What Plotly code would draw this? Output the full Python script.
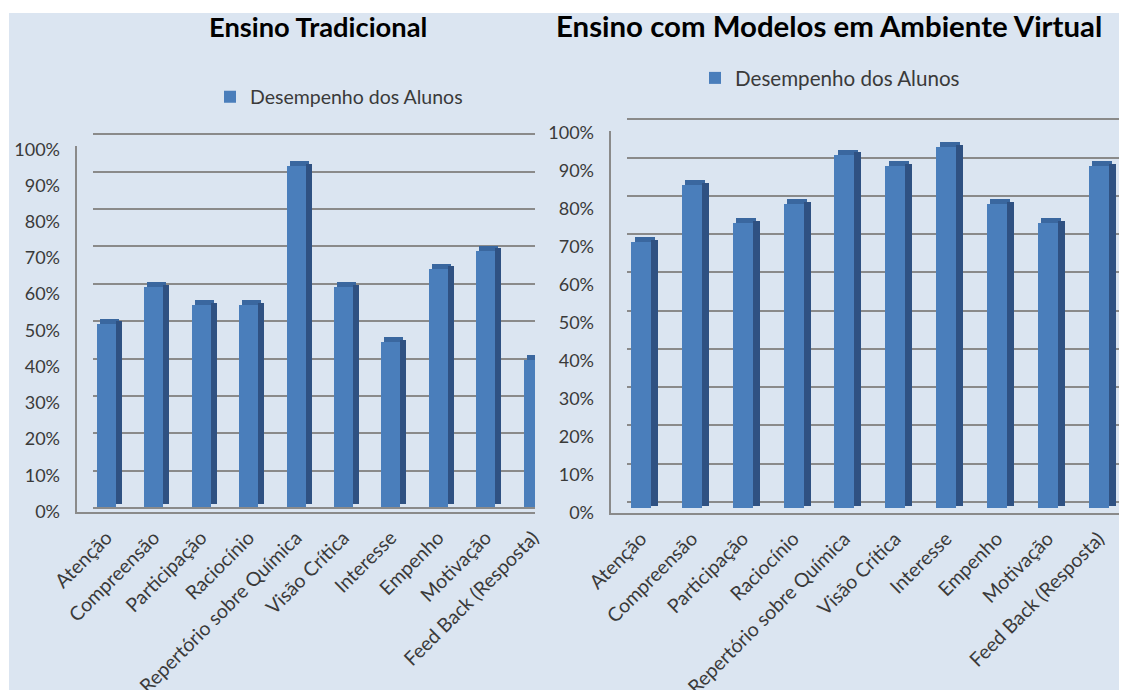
import plotly.graph_objects as go

# ---------------- data ----------------
categories = ["Atenção", "Compreensão", "Participação", "Raciocínio",
              "Repertório sobre Química", "Visão Crítica", "Interesse",
              "Empenho", "Motivação", "Feed Back (Resposta)"]
tradicional = [50, 60, 55, 55, 93, 60, 45, 65, 70, 40]
virtual = [70, 85, 75, 80, 93, 90, 95, 80, 75, 90]
y_ticks = [0, 10, 20, 30, 40, 50, 60, 70, 80, 90, 100]
y_tick_labels = ["0%", "10%", "20%", "30%", "40%", "50%", "60%", "70%", "80%", "90%", "100%"]
series_name = "Desempenho dos Alunos"
title_left = "Ensino Tradicional"
title_right = "Ensino com Modelos em Ambiente Virtual"

# ---------------- style ----------------
WIN_W, WIN_H = 1127, 690
OFF = 8                      # page body margin in the browser
W, H = WIN_W - OFF, WIN_H - OFF
BG = "#dbe5f1"
FRONT = "#4a7ebb"
SIDE = "#2f5182"
TOP = "#3a679f"
GRID = "#8a8a8a"
FONT = "Lato"
TXT = "#3a3a3a"

xpos = list(range(len(categories)))


def fx(p):
    return (p - OFF) / W


def fy(p):
    return 1 - (p - OFF) / H


def ydom(pix0, ppu, lo, hi):
    """domain for an axis whose value 0 sits at window pixel pix0 (ppu px per unit)"""
    return [fy(pix0 - lo * ppu), fy(pix0 - hi * ppu)]


# 3-D panel geometry in window pixels:
#   front axis line / floor + bars; back-wall gridlines; front tick labels
L = dict(x_front=77, x_back=93, x_right=535, c0=106.5, step=47.4,
         bar0=507, bar_ppu=3.66, floor=512,
         grid0=508, grid_ppu=3.737, lab0=511.5, lab_ppu=3.622,
         w=19, s=6, rise=5)
R = dict(x_front=611, x_back=627, x_right=1127, c0=641, step=50.84,
         bar0=508.5, bar_ppu=3.8, floor=513,
         grid0=502, grid_ppu=3.827, lab0=513, lab_ppu=3.8,
         w=20, s=7, rise=5)


def add_bars(fig, vals, g, xref, yref, legend):
    w = g["w"] / g["step"]
    s = g["s"] / g["step"]
    rise = g["rise"] / g["bar_ppu"]
    # front face
    fig.add_trace(go.Bar(x=xpos, y=vals, width=w, offset=-w / 2, marker_color=FRONT,
                         marker_line_width=0, name=series_name, legend=legend,
                         showlegend=True, xaxis=xref, yaxis=yref, hoverinfo="skip"))
    # top face
    fig.add_trace(go.Bar(x=xpos, y=[rise] * len(vals), base=vals, width=w,
                         offset=-w / 2 + s / 2, marker_color=TOP, marker_line_width=0,
                         showlegend=False, xaxis=xref, yaxis=yref, hoverinfo="skip"))
    # side face
    fig.add_trace(go.Bar(x=xpos, y=vals, base=[rise / 2] * len(vals), width=s,
                         offset=w / 2, marker_color=SIDE, marker_line_width=0,
                         showlegend=False, xaxis=xref, yaxis=yref, hoverinfo="skip"))


def add_axis_holder(fig, xref, yref):
    # empty trace so that the (gridline / label) subplot is created
    fig.add_trace(go.Scatter(x=[], y=[], mode="markers", showlegend=False,
                             hoverinfo="skip", xaxis=xref, yaxis=yref))


fig = go.Figure()
add_axis_holder(fig, "x", "y")
add_axis_holder(fig, "x2", "y2")
add_bars(fig, tradicional, L, "x3", "y3", "legend")
add_bars(fig, virtual, R, "x4", "y4", "legend2")
add_axis_holder(fig, "x3", "y5")
add_axis_holder(fig, "x4", "y6")

HIDDEN = dict(showticklabels=False, showline=False, showgrid=False, zeroline=False,
              ticks="", automargin=False, fixedrange=True)


def grid_axes(g, anchor_x, anchor_y):
    xa = dict(HIDDEN, domain=[fx(g["x_back"]), min(1, fx(g["x_right"]))], range=[0, 1],
              anchor=anchor_y)
    lo, hi = -0.5, 100.3
    ya = dict(HIDDEN, domain=ydom(g["grid0"], g["grid_ppu"], lo, hi), range=[lo, hi],
              tickmode="array", tickvals=y_ticks, showgrid=True, gridcolor=GRID,
              gridwidth=1.5, anchor=anchor_x)
    return xa, ya


def bar_axes(g, anchor_x, anchor_y):
    lo = -(g["c0"] - g["x_front"]) / g["step"]
    hi = lo + (g["x_right"] - g["x_front"]) / g["step"]
    xa = dict(domain=[fx(g["x_front"]), min(1, fx(g["x_right"]))], range=[lo, hi],
              tickmode="array", tickvals=xpos, ticktext=categories, tickangle=-45,
              tickfont=dict(family=FONT, size=19.5, color=TXT),
              showline=True, linecolor=GRID, linewidth=1.5, showgrid=False,
              zeroline=False, ticks="", ticklabelstandoff=5,
              fixedrange=True, automargin=False, anchor=anchor_y)
    ylo = -(g["floor"] - g["bar0"]) / g["bar_ppu"]
    yhi = (g["bar0"] - (g["grid0"] - 100 * g["grid_ppu"] + 12)) / g["bar_ppu"]
    ya = dict(HIDDEN, domain=ydom(g["bar0"], g["bar_ppu"], ylo, yhi), range=[ylo, yhi],
              showline=True, linecolor=GRID, linewidth=1.5, anchor=anchor_x)
    return xa, ya


def label_axis(g, anchor_x):
    lo, hi = -1, 101
    return dict(HIDDEN, domain=ydom(g["lab0"], g["lab_ppu"], lo, hi), range=[lo, hi],
                showticklabels=True, tickmode="array", tickvals=y_ticks,
                ticktext=y_tick_labels, tickfont=dict(family=FONT, size=18, color=TXT),
                ticklabelstandoff=16, anchor=anchor_x)


gx1, gy1 = grid_axes(L, "x", "y")
gx2, gy2 = grid_axes(R, "x2", "y2")
bx3, by3 = bar_axes(L, "x3", "y3")
bx4, by4 = bar_axes(R, "x4", "y4")

fig.update_layout(
    template="none",
    width=W, height=H,
    margin=dict(l=0, r=0, t=0, b=0, pad=0, autoexpand=False),
    paper_bgcolor="white",
    plot_bgcolor="rgba(0,0,0,0)",
    barmode="overlay",
    bargap=0,
    font=dict(family=FONT, color=TXT),
    xaxis=gx1, yaxis=gy1,
    xaxis2=gx2, yaxis2=gy2,
    xaxis3=bx3, yaxis3=by3,
    xaxis4=bx4, yaxis4=by4,
    yaxis5=label_axis(L, "x3"),
    yaxis6=label_axis(R, "x4"),
    legend=dict(x=fx(339), y=fy(97), xanchor="center", yanchor="middle",
                orientation="h", bgcolor="rgba(0,0,0,0)", borderwidth=0,
                font=dict(family=FONT, size=19.5, color=TXT)),
    legend2=dict(x=fx(830), y=fy(78), xanchor="center", yanchor="middle",
                 orientation="h", bgcolor="rgba(0,0,0,0)", borderwidth=0,
                 font=dict(family=FONT, size=20.6, color=TXT)),
    shapes=[dict(type="rect", xref="paper", yref="paper", x0=fx(9), x1=1,
                 y0=0, y1=fy(13), fillcolor=BG, line_width=0, layer="below")],
    annotations=[
        dict(text=title_left, x=fx(318), y=fy(27), xref="paper", yref="paper",
             xanchor="center", yanchor="middle", showarrow=False,
             font=dict(family=FONT, size=27.3, color="black", weight="bold")),
        dict(text=title_right, x=fx(829), y=fy(26), xref="paper", yref="paper",
             xanchor="center", yanchor="middle", showarrow=False,
             font=dict(family=FONT, size=29.4, color="black", weight="bold")),
    ],
)

fig.write_html("out.html")
